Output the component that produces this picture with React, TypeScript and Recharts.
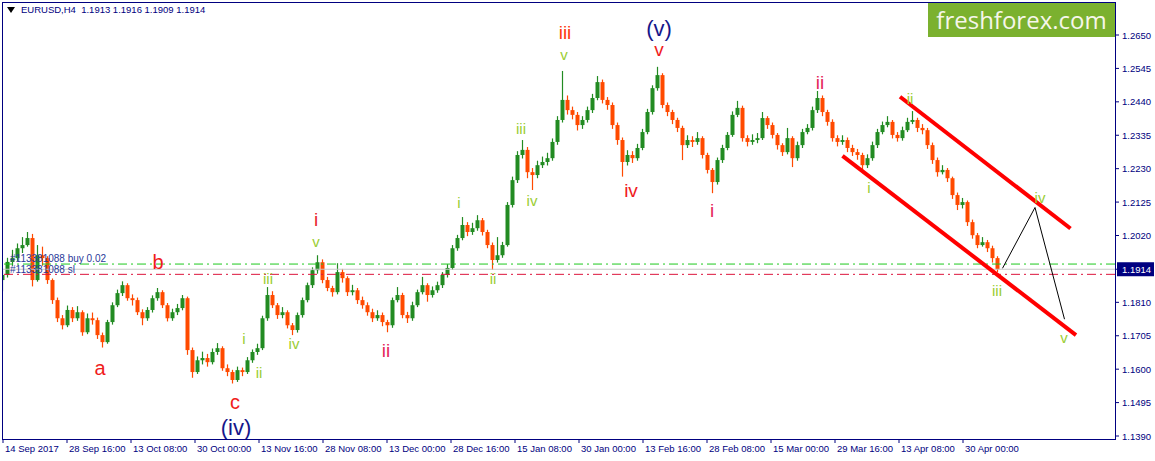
import React from 'react'
import { ComposedChart, Bar, XAxis, YAxis, ReferenceLine, ReferenceDot } from 'recharts'

// prices kept in pips above 1.0000 -> [open, high, low, close]
const sepNov = [
  [1880, 1910, 1845, 1896], [1896, 1950, 1888, 1937], [1937, 1975, 1925, 1949], [1949, 1995, 1940, 1980],
  [1980, 2015, 1965, 1990], [1990, 2031, 1985, 2012], [2012, 2025, 1860, 1880], [1880, 1990, 1875, 1958],
  [1958, 1985, 1925, 1949], [1949, 1955, 1868, 1880], [1880, 1885, 1805, 1817], [1817, 1825, 1748, 1760],
  [1760, 1770, 1725, 1738], [1738, 1800, 1732, 1786], [1786, 1795, 1748, 1760], [1760, 1798, 1752, 1779],
  [1779, 1785, 1705, 1716], [1716, 1775, 1710, 1760], [1760, 1778, 1740, 1754], [1754, 1762, 1695, 1707],
  [1707, 1715, 1668, 1685], [1685, 1755, 1680, 1748], [1748, 1810, 1740, 1801], [1801, 1850, 1795, 1839],
  [1839, 1876, 1830, 1864], [1864, 1870, 1815, 1823], [1823, 1835, 1800, 1817], [1817, 1825, 1770, 1779],
  [1779, 1788, 1738, 1760], [1760, 1795, 1752, 1786], [1786, 1832, 1778, 1823], [1823, 1855, 1815, 1842],
  [1842, 1848, 1792, 1801], [1801, 1808, 1750, 1760], [1760, 1790, 1752, 1779], [1779, 1805, 1770, 1792],
  [1792, 1833, 1785, 1823], [1823, 1828, 1645, 1660], [1660, 1668, 1573, 1591], [1591, 1640, 1585, 1628],
  [1628, 1655, 1615, 1635], [1635, 1648, 1608, 1622], [1622, 1665, 1615, 1654], [1654, 1682, 1645, 1666],
  [1666, 1672, 1595, 1603], [1603, 1615, 1578, 1591], [1591, 1598, 1555, 1566], [1566, 1608, 1560, 1597],
  [1597, 1605, 1578, 1591], [1591, 1638, 1585, 1628],
]
const novJan = [
  [1628, 1662, 1620, 1654], [1654, 1680, 1645, 1666], [1666, 1768, 1660, 1760], [1760, 1858, 1752, 1833],
  [1833, 1845, 1792, 1801], [1801, 1808, 1758, 1770], [1770, 1795, 1760, 1779], [1779, 1785, 1728, 1738],
  [1738, 1745, 1707, 1723], [1723, 1778, 1715, 1770], [1770, 1825, 1762, 1817], [1817, 1872, 1810, 1864],
  [1864, 1920, 1855, 1911], [1911, 1958, 1900, 1936], [1936, 1945, 1870, 1880], [1880, 1890, 1845, 1855],
  [1855, 1862, 1828, 1842], [1842, 1933, 1835, 1905], [1905, 1915, 1872, 1886], [1886, 1892, 1830, 1842],
  [1842, 1865, 1832, 1848], [1848, 1855, 1805, 1817], [1817, 1828, 1790, 1801], [1801, 1810, 1768, 1779],
  [1779, 1790, 1748, 1760], [1760, 1785, 1752, 1770], [1770, 1778, 1735, 1748], [1748, 1755, 1716, 1738],
  [1738, 1825, 1730, 1817], [1817, 1858, 1810, 1833], [1833, 1840, 1760, 1770], [1770, 1780, 1745, 1760],
  [1760, 1812, 1752, 1801], [1801, 1850, 1795, 1842], [1842, 1890, 1835, 1864], [1864, 1870, 1812, 1833],
  [1833, 1860, 1825, 1848], [1848, 1875, 1840, 1864], [1864, 1905, 1855, 1896], [1896, 1930, 1888, 1918],
  [1918, 1990, 1912, 1980], [1980, 2022, 1972, 2012], [2012, 2078, 2005, 2053], [2053, 2062, 2018, 2031],
  [2031, 2060, 2022, 2043], [2043, 2084, 2035, 2068], [2068, 2075, 2020, 2031], [2031, 2038, 1980, 1990],
  [1990, 1998, 1912, 1943], [1943, 2015, 1935, 1958],
]
const janMar = [
  [1958, 2000, 1950, 1990], [1990, 2125, 1985, 2116], [2116, 2205, 2108, 2194], [2194, 2285, 2185, 2273],
  [2273, 2320, 2262, 2289], [2289, 2298, 2200, 2219], [2219, 2232, 2163, 2210], [2210, 2255, 2200, 2241],
  [2241, 2268, 2232, 2251], [2251, 2280, 2240, 2263], [2263, 2325, 2255, 2314], [2314, 2395, 2305, 2383],
  [2383, 2537, 2375, 2446], [2446, 2460, 2400, 2414], [2414, 2425, 2385, 2399], [2399, 2408, 2350, 2367],
  [2367, 2395, 2355, 2383], [2383, 2425, 2375, 2414], [2414, 2465, 2405, 2452], [2452, 2521, 2445, 2502],
  [2502, 2510, 2435, 2446], [2446, 2455, 2415, 2430], [2430, 2438, 2355, 2367], [2367, 2375, 2305, 2320],
  [2320, 2328, 2205, 2251], [2251, 2288, 2240, 2273], [2273, 2285, 2248, 2263], [2263, 2308, 2255, 2295],
  [2295, 2355, 2288, 2345], [2345, 2418, 2338, 2408], [2408, 2492, 2400, 2483], [2483, 2550, 2475, 2524],
  [2524, 2530, 2420, 2430], [2430, 2438, 2395, 2408], [2408, 2415, 2370, 2383], [2383, 2390, 2345, 2358],
  [2358, 2365, 2257, 2304], [2304, 2335, 2295, 2320], [2320, 2332, 2298, 2314], [2314, 2345, 2305, 2326],
  [2326, 2332, 2262, 2273], [2273, 2280, 2215, 2226], [2226, 2232, 2153, 2188], [2188, 2265, 2180, 2257],
  [2257, 2305, 2248, 2295], [2295, 2345, 2288, 2336], [2336, 2410, 2330, 2399], [2399, 2443, 2392, 2421],
  [2421, 2428, 2315, 2326], [2326, 2335, 2300, 2314],
]
const marMay = [
  [2314, 2338, 2305, 2320], [2320, 2342, 2310, 2326], [2326, 2408, 2320, 2389], [2389, 2395, 2355, 2367],
  [2367, 2375, 2325, 2336], [2336, 2342, 2290, 2304], [2304, 2310, 2270, 2282], [2282, 2358, 2275, 2326],
  [2326, 2332, 2235, 2263], [2263, 2315, 2255, 2304], [2304, 2355, 2295, 2345], [2345, 2370, 2338, 2358],
  [2358, 2425, 2350, 2414], [2414, 2474, 2405, 2452], [2452, 2460, 2395, 2408], [2408, 2415, 2365, 2377],
  [2377, 2385, 2315, 2326], [2326, 2335, 2300, 2314], [2314, 2335, 2305, 2320], [2320, 2328, 2282, 2295],
  [2295, 2305, 2270, 2282], [2282, 2292, 2258, 2273], [2273, 2280, 2216, 2241], [2241, 2275, 2232, 2263],
  [2263, 2315, 2255, 2304], [2304, 2355, 2295, 2345], [2345, 2378, 2338, 2367], [2367, 2395, 2360, 2377],
  [2377, 2383, 2325, 2336], [2336, 2345, 2315, 2326], [2326, 2362, 2318, 2351], [2351, 2390, 2345, 2377],
  [2377, 2411, 2370, 2383], [2383, 2390, 2345, 2358], [2358, 2370, 2338, 2351], [2351, 2358, 2292, 2304],
  [2304, 2312, 2245, 2257], [2257, 2265, 2205, 2219], [2219, 2241, 2212, 2226], [2226, 2232, 2188, 2200],
  [2200, 2205, 2135, 2147], [2147, 2155, 2100, 2116], [2116, 2138, 2105, 2125], [2125, 2130, 2050, 2062],
  [2062, 2070, 2010, 2021], [2021, 2028, 1980, 1990], [1990, 2015, 1985, 1999], [1999, 2006, 1968, 1980],
  [1980, 1988, 1935, 1949], [1949, 1955, 1905, 1914],
]

const HEADER_OHLC = [1.1913, 1.1916, 1.1909, 1.1914]
const LAST_PRICE = 1.1914
const BUY_PRICE = 1.19303
const SL_PRICE = 1.1898

const PRICE_TICKS = [1.139, 1.1495, 1.16, 1.1705, 1.181, 1.1914, 1.202, 1.2125, 1.223, 1.2335, 1.244, 1.2545, 1.265]
const DATE_TICKS = [0, 12.8, 25.6, 38.4, 51.2, 64, 76.8, 89.6, 102.4, 115.2, 128, 140.8, 153.6, 166.4, 179.2, 192]
const DATE_LABELS = [
  '14 Sep 2017', '28 Sep 16:00', '13 Oct 08:00', '30 Oct 00:00', '13 Nov 16:00', '28 Nov 08:00',
  '13 Dec 00:00', '28 Dec 16:00', '15 Jan 08:00', '30 Jan 00:00', '13 Feb 16:00', '28 Feb 08:00',
  '15 Mar 00:00', '29 Mar 16:00', '13 Apr 08:00', '30 Apr 00:00',
]

// channel and projected path, in bar index / price
const CHANNEL = [
  [{ x: 179.4, y: 1.2456 }, { x: 213.5, y: 1.2042 }],
  [{ x: 167.9, y: 1.227 }, { x: 214.6, y: 1.1707 }],
]
const PROJECTION = [
  { x: 199.9, y: 1.1917 },
  { x: 206.4, y: 1.2108 },
  { x: 212.3, y: 1.1757 },
]

const RED = '#f01c1c'
const PINK = '#e5275a'
const GREEN_LBL = '#9acd32'
const NAVY = '#000080'
const WAVE_LABELS = [
  { t: 31, p: 1.19366, text: 'b', color: RED, size: 20 },
  { t: 19.4, p: 1.16035, text: 'a', color: RED, size: 20 },
  { t: 46.4, p: 1.14966, text: 'c', color: RED, size: 20 },
  { t: 46.6, p: 1.14181, text: '(iv)', color: '#16168a', size: 22 },
  { t: 131.2, p: 1.2672, text: '(v)', color: '#16168a', size: 22 },
  { t: 62.6, p: 1.20717, text: 'i', color: '#e8262e', size: 19 },
  { t: 76.6, p: 1.16601, text: 'ii', color: PINK, size: 19 },
  { t: 112.4, p: 1.2659, text: 'iii', color: '#ff3a10', size: 19 },
  { t: 125.6, p: 1.21629, text: 'iv', color: RED, size: 19 },
  { t: 131.2, p: 1.26029, text: 'v', color: RED, size: 19 },
  { t: 141.8, p: 1.21, text: 'i', color: PINK, size: 19 },
  { t: 163.4, p: 1.25023, text: 'ii', color: PINK, size: 19 },
  { t: 48.2, p: 1.16978, text: 'i', color: GREEN_LBL, size: 15 },
  { t: 51.2, p: 1.15909, text: 'ii', color: GREEN_LBL, size: 15 },
  { t: 53, p: 1.18863, text: 'iii', color: GREEN_LBL, size: 15 },
  { t: 58.2, p: 1.1682, text: 'iv', color: GREEN_LBL, size: 15 },
  { t: 62.6, p: 1.20026, text: 'v', color: GREEN_LBL, size: 15 },
  { t: 91.2, p: 1.21252, text: 'i', color: GREEN_LBL, size: 15 },
  { t: 98, p: 1.18863, text: 'ii', color: GREEN_LBL, size: 15 },
  { t: 103.6, p: 1.23577, text: 'iii', color: GREEN_LBL, size: 15 },
  { t: 105.8, p: 1.21315, text: 'iv', color: GREEN_LBL, size: 15 },
  { t: 112.2, p: 1.25903, text: 'v', color: GREEN_LBL, size: 15 },
  { t: 173.2, p: 1.21723, text: 'i', color: GREEN_LBL, size: 15 },
  { t: 181.4, p: 1.2452, text: 'ii', color: GREEN_LBL, size: 15 },
  { t: 198.8, p: 1.18486, text: 'iii', color: GREEN_LBL, size: 15 },
  { t: 207.4, p: 1.21409, text: 'iv', color: GREEN_LBL, size: 15 },
  { t: 212.2, p: 1.17009, text: 'v', color: GREEN_LBL, size: 15 },
]

const UP = '#228b22'
const DOWN = '#ff4a00'
const px = (v: number) => 1 + v / 10000

const candles = [...sepNov, ...novJan, ...janMar, ...marMay].map(([o, h, l, c], t) => ({
  t,
  open: px(o),
  high: px(h),
  low: px(l),
  close: px(c),
  range: [px(l), px(h)],
}))

function Candle(props: any) {
  const { x, y, width, height, payload } = props
  if (height == null || !payload) return null
  const top = Math.min(y, y + height)
  const h = Math.abs(height)
  const k = payload.high - payload.low > 0 ? h / (payload.high - payload.low) : 0
  const yO = top + (payload.high - payload.open) * k
  const yC = top + (payload.high - payload.close) * k
  const color = payload.close >= payload.open ? UP : DOWN
  const cx = x + width / 2
  return (
    <g>
      <line x1={cx} x2={cx} y1={top} y2={top + h} stroke={color} strokeWidth={1.2} />
      <rect x={x} y={Math.min(yO, yC)} width={width} height={Math.max(1, Math.abs(yC - yO))} fill={color} />
    </g>
  )
}

function PriceTick({ x, y, payload }: any) {
  const v = payload.value
  if (Math.abs(v - LAST_PRICE) < 1e-6) {
    return (
      <g>
        <rect x={x - 5} y={y - 7} width={37} height={14} fill={NAVY} />
        <text x={x} y={y} dy={3.5} fill="#fff" fontSize={9.5} fontFamily="Liberation Sans">{v.toFixed(4)}</text>
      </g>
    )
  }
  return <text x={x} y={y} dy={3.5} fill={NAVY} fontSize={9.5} fontFamily="Liberation Sans">{v.toFixed(4)}</text>
}

function DateTick({ x, y, payload }: any) {
  const i = DATE_TICKS.indexOf(payload.value)
  return (
    <text x={x + 2} y={y} dy={8} fill={NAVY} fontSize={9.5} fontFamily="Liberation Sans" textAnchor="start">
      {DATE_LABELS[i]}
    </text>
  )
}

const textShape = (text: string, color: string, size: number, anchor = 'middle') => (props: any) => (
  <text x={props.cx} y={props.cy} fill={color} fontSize={size} fontFamily="Liberation Sans"
    textAnchor={anchor} dominantBaseline="central">{text}</text>
)

export default function App() {
  return (
    <div style={{ position: 'relative', width: 1155, height: 461, background: '#fff', fontFamily: 'Liberation Sans' }}>
      <style>{'body{margin:0}'}</style>
      <ComposedChart width={1155} height={461} data={candles} margin={{ top: 2, right: 0, bottom: 0, left: 2 }}>
        <XAxis dataKey="t" type="number" domain={[-0.2, 222.4]} allowDataOverflow ticks={DATE_TICKS}
          tick={<DateTick />} tickSize={4} tickMargin={1} height={22} axisLine={false} tickLine={{ stroke: NAVY }}
          interval={0} />
        <YAxis orientation="right" type="number" domain={[1.13806, 1.27537]} allowDataOverflow ticks={PRICE_TICKS}
          tick={<PriceTick />} tickSize={4} tickMargin={3} width={40} axisLine={false} tickLine={{ stroke: NAVY }}
          interval={0} />
        <ReferenceLine y={BUY_PRICE} stroke="#1ec81e" strokeDasharray="9 4 2 4" />
        <ReferenceLine y={LAST_PRICE} stroke="#c8c8c8" />
        <ReferenceLine y={SL_PRICE} stroke="#dc143c" strokeDasharray="9 4 2 4" />
        <Bar dataKey="range" barSize={4} shape={<Candle />} isAnimationActive={false} />
        {CHANNEL.map((seg, i) => (
          <ReferenceLine key={'c' + i} segment={seg} stroke="#ff0000" strokeWidth={4} />
        ))}
        {PROJECTION.slice(1).map((pt, i) => (
          <ReferenceLine key={'p' + i} segment={[PROJECTION[i], pt]} stroke="#000" strokeWidth={1} />
        ))}
        <ReferenceDot x={1.4} y={1.19492} r={0} shape={textShape('#113381088 buy 0.02', '#2a3a9a', 10, 'start')} />
        <ReferenceDot x={1.4} y={1.19146} r={0} shape={textShape('#113381088 sl', '#2a3a9a', 10, 'start')} />
        {WAVE_LABELS.map((w, i) => (
          <ReferenceDot key={'w' + i} x={w.t} y={w.p} r={0} shape={textShape(w.text, w.color, w.size)} />
        ))}
      </ComposedChart>
      <div style={{ position: 'absolute', left: 2, top: 2, width: 1114, height: 438, border: `1px solid ${NAVY}`, boxSizing: 'border-box', pointerEvents: 'none' }} />
      <div style={{ position: 'absolute', left: 7, top: 4, fontSize: 9.5, color: NAVY, whiteSpace: 'pre', display: 'flex', alignItems: 'center' }}>
        <svg width={8} height={6} style={{ marginRight: 6 }}><polygon points="0,0 8,0 4,6" fill="#000" /></svg>
        <span>{'EURUSD,H4  ' + HEADER_OHLC.map(v => v.toFixed(4)).join(' ')}</span>
      </div>
      <div style={{ position: 'absolute', left: 928, top: 3, width: 187, height: 34, background: '#7bb12f', color: '#f6f6ea', fontFamily: 'Open Sans', fontSize: 24, lineHeight: '34px', textAlign: 'center' }}>
        freshforex.com
      </div>
    </div>
  )
}
